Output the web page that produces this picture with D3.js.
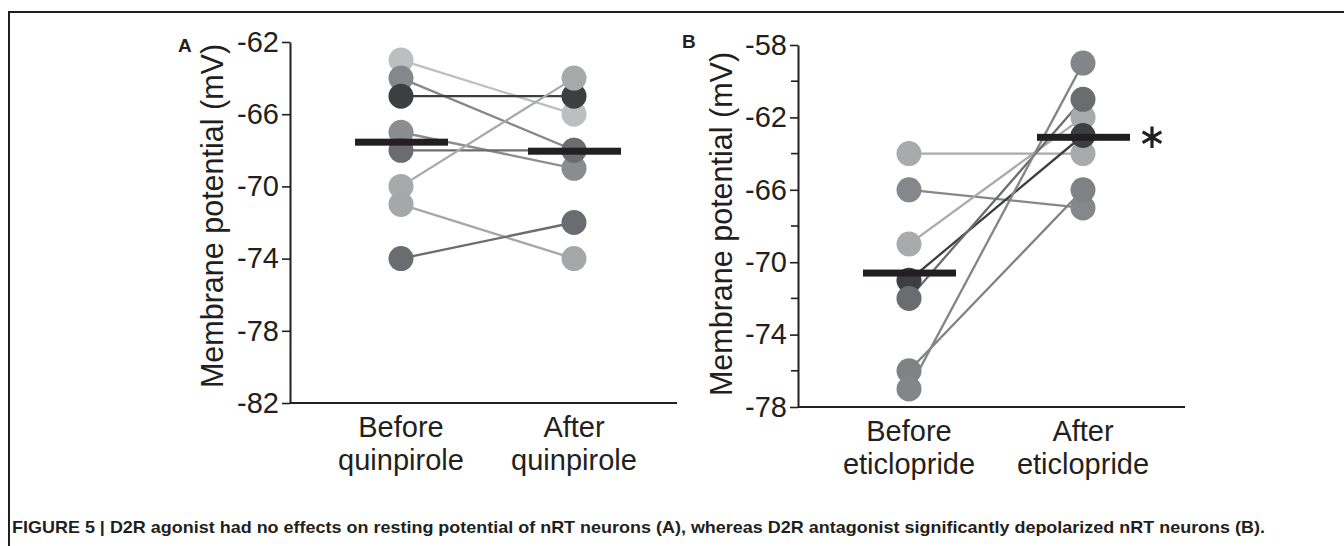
<!DOCTYPE html>
<html>
<head>
<meta charset="utf-8">
<script src="https://cdn.jsdelivr.net/npm/d3@7"></script>
<style>
  body { margin: 0; background: #fff; }
  svg { display: block; }
  text { font-family: "Liberation Sans", Arial, sans-serif; fill: #231f20; }
</style>
</head>
<body>
<script>
'use strict';

// panel A: quinpirole (each index is one neuron)
const aCategories = ["Before", "After"];
const aCatLabels = [["Before", "quinpirole"], ["After", "quinpirole"]];
const aBefore = [-63, -64, -65, -67, -68, -70, -71, -74];
const aAfter = [-66, -68, -65, -69, -68, -64, -74, -72];
const aMeans = [-67.55, -68.05];
const aTicks = [-62, -66, -70, -74, -78, -82];

// panel B: eticlopride
const bCategories = ["Before", "After"];
const bCatLabels = [["Before", "eticlopride"], ["After", "eticlopride"]];
const bBefore = [-64, -66, -69, -71, -72, -76, -77];
const bAfter = [-64, -67, -62, -63, -61, -66, -59];
const bMeans = [-70.6, -63.1];
const bTicks = [-58, -62, -66, -70, -74, -78];
const bMinorTicks = [-60, -64, -68, -72, -76];

const caption = "FIGURE 5 | D2R agonist had no effects on resting potential of nRT neurons (A), whereas D2R antagonist significantly depolarized nRT neurons (B).";

// grey shade of each neuron (style only)
const aShades = ["#bdbec0", "#86878a", "#3d3e40", "#8b8c8e", "#6b6c6e", "#a8a9ab", "#a6a7a9", "#6b6c6f"];
const bShades = ["#a9aaac", "#86878a", "#a9aaac", "#3d3e40", "#6b6c6f", "#808184", "#848588"];

const svg = d3.select("body").append("svg")
  .attr("width", 1344)
  .attr("height", 546);

// figure frame (top and left rules)
svg.append("path")
  .attr("d", "M9,546 V12 H1344")
  .attr("fill", "none")
  .attr("stroke", "#231f20")
  .attr("stroke-width", 2);

function drawPanel(opt) {
  const g = svg.append("g");

  const y = d3.scaleLinear().domain(opt.yDomain).range(opt.yRange);
  const x = d3.scalePoint().domain(opt.categories).range(opt.xRange);

  // y axis
  const yAxis = d3.axisLeft(y)
    .tickValues(opt.ticks)
    .tickFormat(d3.format("d"))
    .tickSize(8)
    .tickSizeOuter(0)
    .tickPadding(3);
  const ya = g.append("g")
    .attr("transform", `translate(${opt.axisX},0)`)
    .call(yAxis);
  ya.select(".domain").attr("stroke", "#231f20").attr("stroke-width", 2);
  ya.selectAll(".tick line").attr("stroke", "#231f20").attr("stroke-width", 1.6);
  ya.selectAll(".tick text")
    .attr("fill", "#231f20")
    .style("font-size", "29px")
    .style("font-family", "'Liberation Sans', Arial, sans-serif")
    .text((d) => String(d).replace("\u2212", "-"));

  if (opt.minor) {
    g.append("g")
      .attr("transform", `translate(${opt.axisX},0)`)
      .selectAll("line")
      .data(opt.minor)
      .enter()
      .append("line")
      .attr("x1", -7)
      .attr("x2", 0)
      .attr("y1", (d) => y(d))
      .attr("y2", (d) => y(d))
      .attr("stroke", "#231f20")
      .attr("stroke-width", 1.6);
  }

  // x axis line
  g.append("line")
    .attr("x1", opt.axisX)
    .attr("x2", opt.axisEnd)
    .attr("y1", y(opt.yDomain[0]))
    .attr("y2", y(opt.yDomain[0]))
    .attr("stroke", "#231f20")
    .attr("stroke-width", 2);

  // category labels (two lines)
  const cat = g.selectAll(".cat")
    .data(opt.categories)
    .enter()
    .append("text")
    .attr("class", "cat")
    .attr("text-anchor", "middle")
    .style("font-size", "29px");
  cat.each(function (d, i) {
    d3.select(this).selectAll("tspan")
      .data(opt.catLabels[i])
      .enter()
      .append("tspan")
      .attr("x", x(d))
      .attr("y", (t, j) => y(opt.yDomain[0]) + 34 + j * 33)
      .text((t) => t);
  });

  // y title
  g.append("text")
    .attr("transform", `translate(${opt.titleX},${opt.titleY}) rotate(-90)`)
    .attr("text-anchor", "middle")
    .style("font-size", "30.5px")
    .text("Membrane potential (mV)");

  // panel letter
  g.append("text")
    .attr("x", opt.letterX)
    .attr("y", opt.letterY)
    .style("font-size", "19px")
    .style("font-weight", "bold")
    .text(opt.letter);

  const pairs = opt.before.map((b, i) => ({ b: b, a: opt.after[i], c: opt.shades[i] }));

  // connecting lines
  g.selectAll(".pair")
    .data(pairs)
    .enter()
    .append("line")
    .attr("x1", x(opt.categories[0]))
    .attr("x2", x(opt.categories[1]))
    .attr("y1", (d) => y(d.b))
    .attr("y2", (d) => y(d.a))
    .attr("stroke", (d) => d.c)
    .attr("stroke-width", 2.3);

  // points
  g.selectAll(".ptB")
    .data(pairs)
    .enter()
    .append("circle")
    .attr("cx", x(opt.categories[0]))
    .attr("cy", (d) => y(d.b))
    .attr("r", 12.5)
    .attr("fill", (d) => d.c);

  g.selectAll(".ptA")
    .data(pairs)
    .enter()
    .append("circle")
    .attr("cx", x(opt.categories[1]))
    .attr("cy", (d) => y(d.a))
    .attr("r", 12.5)
    .attr("fill", (d) => d.c);

  // mean bars
  g.selectAll(".mean")
    .data(opt.means)
    .enter()
    .append("rect")
    .attr("x", (d, i) => x(opt.categories[i]) - 46)
    .attr("width", 93)
    .attr("y", (d) => y(d) - 3.5)
    .attr("height", 7)
    .attr("fill", "#231f20");

  return { x: x, y: y, g: g };
}

drawPanel({
  letter: "A", letterX: 178, letterY: 52,
  categories: aCategories, catLabels: aCatLabels,
  before: aBefore, after: aAfter, means: aMeans, shades: aShades,
  ticks: aTicks,
  yDomain: [-82, -62], yRange: [403, 42],
  xRange: [401, 574],
  axisX: 290, axisEnd: 677,
  titleX: 223, titleY: 216
});

const pb = drawPanel({
  letter: "B", letterX: 682, letterY: 48,
  categories: bCategories, catLabels: bCatLabels,
  before: bBefore, after: bAfter, means: bMeans, shades: bShades,
  ticks: bTicks, minor: bMinorTicks,
  yDomain: [-78, -58], yRange: [407, 45],
  xRange: [909, 1083],
  axisX: 798, axisEnd: 1185,
  titleX: 732, titleY: 224
});

// significance marker beside the "after" mean
pb.g.append("path")
  .attr("d", d3.symbol().type(d3.symbolAsterisk).size(330)())
  .attr("transform", `translate(${pb.x("After") + 69},${pb.y(bMeans[1])})`)
  .attr("fill", "none")
  .attr("stroke", "#231f20")
  .attr("stroke-width", 3.2);

// caption
svg.append("text")
  .attr("x", 12)
  .attr("y", 533)
  .attr("textLength", 1253)
  .attr("lengthAdjust", "spacingAndGlyphs")
  .style("font-size", "17px")
  .style("font-weight", "bold")
  .text(caption);
</script>
</body>
</html>
